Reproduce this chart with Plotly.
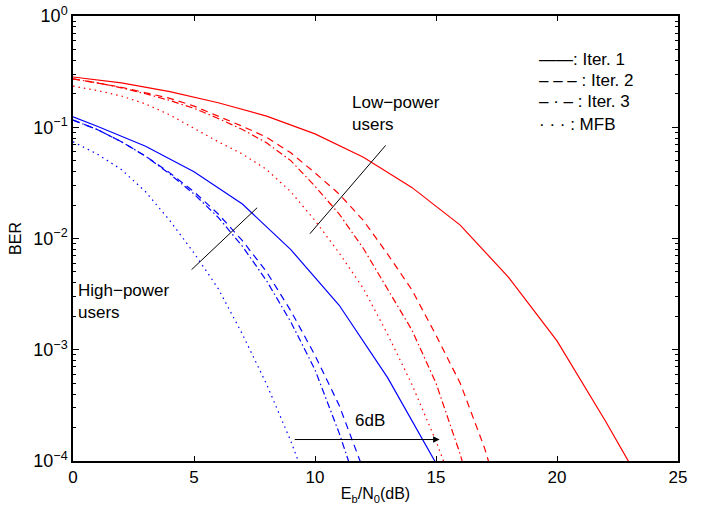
import plotly.graph_objects as go

# ---------------- data ----------------
# Low-power users (red)
ebn0_low_iter1 = [0, 2, 4, 6, 8, 10, 12, 14, 16, 18, 20, 22, 24]
ber_low_iter1 = [0.283, 0.251, 0.209, 0.166, 0.126, 0.0871, 0.0537, 0.0288,
                 0.0132, 4.47e-3, 1.20e-3, 2.29e-4, 3.98e-5]

ebn0_low_iter2 = [0, 1, 2, 3, 4, 5, 6, 7, 8, 9, 10, 11, 12, 13, 14, 15, 16, 17, 18]
ber_low_iter2 = [0.272, 0.251, 0.229, 0.204, 0.182, 0.155, 0.126, 0.102, 0.0813,
                 0.0589, 0.0389, 0.0251, 0.0145, 7.24e-3, 3.47e-3, 1.35e-3,
                 5.01e-4, 1.32e-4, 2.51e-5]

ebn0_low_iter3 = [0, 1, 2, 3, 4, 5, 6, 7, 8, 9, 10, 11, 12, 13, 14, 15, 16, 17]
ber_low_iter3 = [0.272, 0.251, 0.226, 0.200, 0.174, 0.148, 0.120, 0.0955, 0.0724,
                 0.0501, 0.0295, 0.0166, 8.13e-3, 3.55e-3, 1.51e-3, 5.01e-4,
                 1.15e-4, 2.0e-5]

ebn0_low_mfb = [0, 1, 2, 3, 4, 5, 6, 7, 8, 9, 10, 11, 12, 13, 14, 15, 16]
ber_low_mfb = [0.234, 0.214, 0.191, 0.162, 0.129, 0.0977, 0.0741, 0.0575, 0.0417,
               0.0263, 0.0145, 7.41e-3, 3.55e-3, 1.38e-3, 4.90e-4, 1.51e-4, 3.98e-5]

# High-power users (blue)
ebn0_high_iter1 = [0, 1, 3, 5, 7, 9, 11, 13, 15]
ber_high_iter1 = [0.124, 0.102, 0.0676, 0.0398, 0.0204, 7.94e-3, 2.51e-3,
                  5.62e-4, 9.55e-5]

ebn0_high_iter2 = [0, 1, 2, 3, 4, 5, 6, 7, 8, 9, 10, 11, 12, 13]
ber_high_iter2 = [0.116, 0.0955, 0.0741, 0.0550, 0.0389, 0.0263, 0.0166, 9.55e-3,
                  5.01e-3, 2.24e-3, 8.91e-4, 3.16e-4, 8.32e-5, 2.0e-5]

ebn0_high_iter3 = [0, 1, 2, 3, 4, 5, 6, 7, 8, 9, 10, 11, 12]
ber_high_iter3 = [0.116, 0.0955, 0.0741, 0.0550, 0.0380, 0.0251, 0.0155, 8.51e-3,
                  4.17e-3, 1.78e-3, 6.61e-4, 1.78e-4, 3.98e-5]

ebn0_high_mfb = [0, 1, 2, 3, 4, 5, 6, 7, 8, 9, 10]
ber_high_mfb = [0.0741, 0.0575, 0.0417, 0.0263, 0.0145, 7.41e-3, 3.55e-3,
                1.38e-3, 4.90e-4, 1.51e-4, 3.98e-5]

# axis ticks
x_ticks = [0, 5, 10, 15, 20, 25]
y_tick_vals = [1e-4, 1e-3, 1e-2, 1e-1, 1]
y_tick_text = ["10<sup>−4</sup>", "10<sup>−3</sup>", "10<sup>−2</sup>",
               "10<sup>−1</sup>", "10<sup>0</sup>"]

# annotation pointer lines (x in dB, y in BER)
low_pointer_x = [9.79, 12.92]
low_pointer_ber = [0.01104, 0.0687]
high_pointer_x = [4.90, 7.61]
high_pointer_ber = [5.25e-3, 0.0189]
# 6 dB arrow (x in dB, y as log10(BER))
shift_arrow_x = [9.1, 15.15]
shift_arrow_logy = -3.807

FONT = "Liberation Sans, Arial, Helvetica, sans-serif"
RED = "#ff0000"
BLUE = "#0000ff"
DASH = "7px,5px"
DASHDOT = "7px,3px,1.5px,3px"
DOT = "1.5px,4px"

fig = go.Figure()


def add(x, y, color, dash, width=1.2):
    fig.add_trace(go.Scatter(x=x, y=y, mode="lines",
                             line=dict(color=color, width=width, dash=dash),
                             showlegend=False, hoverinfo="skip"))


add(ebn0_low_iter1, ber_low_iter1, RED, "solid")
add(ebn0_low_iter2, ber_low_iter2, RED, DASH)
add(ebn0_low_iter3, ber_low_iter3, RED, DASHDOT)
add(ebn0_low_mfb, ber_low_mfb, RED, DOT)
add(ebn0_high_iter1, ber_high_iter1, BLUE, "solid")
add(ebn0_high_iter2, ber_high_iter2, BLUE, DASH)
add(ebn0_high_iter3, ber_high_iter3, BLUE, DASHDOT)
add(ebn0_high_mfb, ber_high_mfb, BLUE, DOT)

# pointer lines
add(low_pointer_x, low_pointer_ber, "black", "solid", 1)
add(high_pointer_x, high_pointer_ber, "black", "solid", 1)

annotations = [
    dict(x=11.44, y=-0.878, xref="x", yref="y", text="Low−power<br>users",
         showarrow=False, xanchor="left", yanchor="middle", align="left",
         font=dict(size=17, family=FONT, color="black")),
    dict(x=0.14, y=-2.564, xref="x", yref="y", text="High−power<br>users",
         showarrow=False, xanchor="left", yanchor="middle", align="left",
         font=dict(size=17, family=FONT, color="black")),
    dict(x=12.27, y=-3.636, xref="x", yref="y", text="6dB",
         showarrow=False, xanchor="center", yanchor="middle",
         font=dict(size=17, family=FONT, color="black")),
    dict(x=shift_arrow_x[1], y=shift_arrow_logy, ax=shift_arrow_x[0], ay=shift_arrow_logy,
         xref="x", yref="y", axref="x", ayref="y", text="", showarrow=True,
         arrowhead=2, arrowsize=1.3, arrowwidth=1, arrowcolor="black"),
]

legend_rows = [("——: Iter. 1", 0.902), ("– – – : Iter. 2", 0.854),
               ("– · – : Iter. 3", 0.807), ("· · · : MFB", 0.757)]
for txt, yy in legend_rows:
    annotations.append(dict(x=0.767, y=yy, xref="paper", yref="paper", text=txt,
                            showarrow=False, xanchor="left", yanchor="middle",
                            font=dict(size=17, family=FONT, color="black")))

minor_vals = [m * 10 ** e for e in range(-4, 0) for m in range(2, 10)]

fig.update_layout(
    width=702, height=515,
    margin=dict(l=73, r=24, t=16, b=54),
    paper_bgcolor="white", plot_bgcolor="white",
    font=dict(family=FONT, size=16, color="black"),
    showlegend=False,
    annotations=annotations,
    xaxis=dict(range=[0, 25], tickvals=x_ticks, ticks="inside", ticklen=5,
               tickwidth=1, tickcolor="black", showline=True, linecolor="black",
               linewidth=1.5, mirror="ticks", showgrid=False, zeroline=False,
               automargin=False,
               tickfont=dict(size=17, family=FONT),
               title=dict(text="E<sub>b</sub>/N<sub>0</sub>(dB)", standoff=2,
                          font=dict(size=16, family=FONT))),
    yaxis=dict(type="log", range=[-4, 0], tickvals=y_tick_vals, ticktext=y_tick_text,
               ticks="inside", ticklen=6, tickwidth=1, tickcolor="black",
               showline=True, linecolor="black", linewidth=1.5, mirror="ticks",
               showgrid=False, zeroline=False, automargin=False,
               tickfont=dict(size=18, family=FONT),
               minor=dict(tickvals=minor_vals, ticks="inside", ticklen=3,
                          tickcolor="black", showgrid=False),
               title=dict(text="BER", standoff=8, font=dict(size=16, family=FONT))),
)

fig.write_html("out.html",
               config={"displayModeBar": False},
               post_script="document.body.style.margin='0';"
                           "document.body.style.overflow='hidden';")
